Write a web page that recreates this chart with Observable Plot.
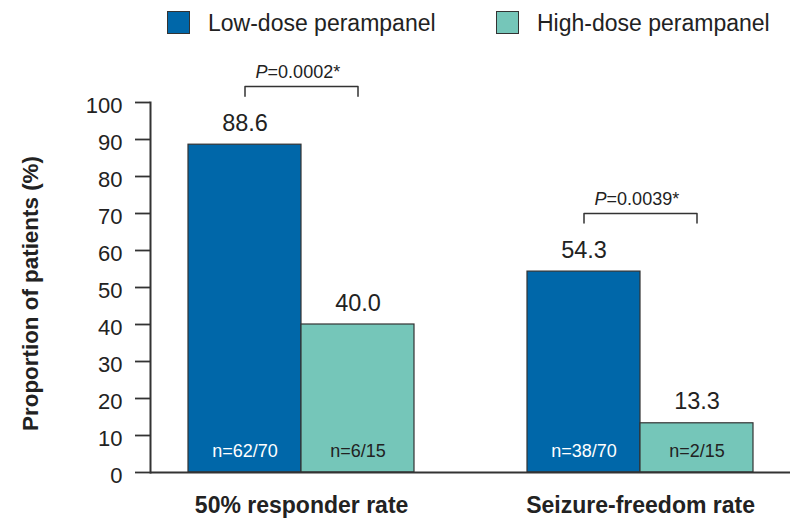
<!DOCTYPE html>
<html>
<head>
<meta charset="utf-8">
<script src="https://cdn.jsdelivr.net/npm/d3@7"></script>
<script src="https://cdn.jsdelivr.net/npm/@observablehq/plot@0.6"></script>
<style>
  body { margin: 0; background: #fff; font-family: "Liberation Sans", Arial, sans-serif; }
  #wrap { position: relative; width: 795px; height: 520px; }
  #legend { position: relative; height: 46px; }
  .sw { position: absolute; top: 11px; width: 23px; height: 23px; border: 1px solid #333; box-sizing: border-box; }
  .lt { position: absolute; top: 11px; font-size: 23px; line-height: 28px; color: #222; white-space: nowrap; }
</style>
</head>
<body>
<div id="wrap">
  <div id="legend"></div>
  <div id="chart"></div>
</div>
<script>
// ---- data ----
const groups = ["50% responder rate", "Seizure-freedom rate"];
const doses = ["Low-dose perampanel", "High-dose perampanel"];
const colors = ["#0067A9", "#75C6B9"];
const lowValues = [88.6, 54.3];
const highValues = [40.0, 13.3];
const lowN = ["n=62/70", "n=38/70"];
const highN = ["n=6/15", "n=2/15"];
const pValues = ["0.0002*", "0.0039*"];
const yTicks = [0, 10, 20, 30, 40, 50, 60, 70, 80, 90, 100];
const yLabel = "Proportion of patients (%)";

// ---- layout ----
const W = 795, H = 474, mL = 150, mR = 5, mT = 56, mB = 48;
const padOuter = 0.327;
const step = (W - mL - mR) / (5 + 2 * padOuter);
const half = step / 2;
const key = (g, d) => g + "|" + d;
const xDomain = groups.flatMap((g, i) => [
  ...doses.map(d => key(g, d)),
  ...(i < groups.length - 1 ? [" "] : [])
]);

const bars = groups.flatMap((g, i) => [
  {group: g, dose: doses[0], value: lowValues[i], n: lowN[i]},
  {group: g, dose: doses[1], value: highValues[i], n: highN[i]}
]);
const brackets = groups.map((g, i) => ({
  group: g,
  top: Math.max(lowValues[i], highValues[i]) + 15.7,
  p: pValues[i]
}));
const bracketPts = brackets.flatMap(b => [
  {group: b.group, x: key(b.group, doses[0]), y: b.top - 2.6},
  {group: b.group, x: key(b.group, doses[0]), y: b.top},
  {group: b.group, x: key(b.group, doses[1]), y: b.top},
  {group: b.group, x: key(b.group, doses[1]), y: b.top - 2.6}
]);

// ---- legend ----
const legend = document.getElementById("legend");
const legendPos = [[167, 208], [496, 537]];
doses.forEach((d, i) => {
  const sw = document.createElement("div");
  sw.className = "sw";
  sw.style.left = legendPos[i][0] + "px";
  sw.style.background = colors[i];
  legend.appendChild(sw);
  const t = document.createElement("div");
  t.className = "lt";
  t.style.left = legendPos[i][1] + "px";
  t.style.top = "9px";
  t.textContent = d;
  legend.appendChild(t);
});

// ---- chart ----
const ink = "#222";
const chart = Plot.plot({
  width: W, height: H,
  marginLeft: mL, marginRight: mR, marginTop: mT, marginBottom: mB,
  style: {fontFamily: "'Liberation Sans', Arial, sans-serif", color: ink, background: "white"},
  x: {type: "band", domain: xDomain, paddingInner: 0, paddingOuter: padOuter, axis: null},
  y: {domain: [0, 100]},
  color: {domain: doses, range: colors},
  marks: [
    Plot.barY(bars, {x: d => key(d.group, d.dose), y: "value", fill: "dose", stroke: "#333", strokeWidth: 1.2}),
    Plot.text(bars, {x: d => key(d.group, d.dose), y: "value", text: d => d.value.toFixed(1),
      lineAnchor: "bottom", dy: -14, fontSize: 23.5, fill: ink}),
    Plot.text(bars.filter(d => d.dose === doses[0]), {x: d => key(d.group, d.dose), y: 0, text: "n",
      lineAnchor: "bottom", dy: -16, fontSize: 18, fill: "white"}),
    Plot.text(bars.filter(d => d.dose === doses[1]), {x: d => key(d.group, d.dose), y: 0, text: "n",
      lineAnchor: "bottom", dy: -16, fontSize: 18, fill: ink}),
    Plot.line(bracketPts, {x: "x", y: "y", z: "group", stroke: "#333", strokeWidth: 1.5}),
    Plot.text(brackets, {x: b => key(b.group, doses[0]), y: "top", text: () => "P",
      fontStyle: "italic", textAnchor: "start", lineAnchor: "bottom", dx: half - 46, dy: -9, fontSize: 18, fill: ink}),
    Plot.text(brackets, {x: b => key(b.group, doses[0]), y: "top", text: b => "=" + b.p,
      textAnchor: "start", lineAnchor: "bottom", dx: half - 46 + 12, dy: -9, fontSize: 18, fill: ink}),
    Plot.text(groups, {x: g => key(g, doses[0]), y: () => 0, text: g => g,
      lineAnchor: "bottom", dx: half, dy: 40, fontSize: 23, fontWeight: "bold", fill: ink}),
    Plot.text([yLabel], {frameAnchor: "left", text: d => d, rotate: -90, textAnchor: "middle",
      lineAnchor: "bottom", dx: -113, dy: 6, fontSize: 22.4, fontWeight: "bold", fill: ink}),
    Plot.ruleY([0], {stroke: "#333", strokeWidth: 2}),
    Plot.frame({anchor: "left", stroke: "#333", strokeWidth: 2}),
    Plot.axisY({ticks: yTicks, tickSize: 15, tickFormat: () => "", strokeWidth: 1.8, stroke: "#333", label: null}),
    Plot.axisY({ticks: yTicks, tickSize: 0, tickPadding: 28, fontSize: 22, label: null, dy: 3.5, fill: ink})
  ]
});
document.getElementById("chart").appendChild(chart);
</script>
</body>
</html>
